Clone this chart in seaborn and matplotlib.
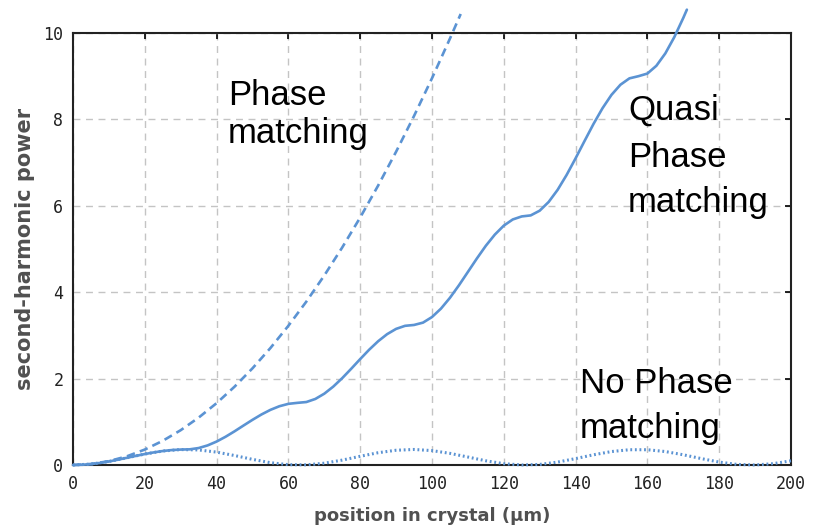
import matplotlib
matplotlib.use("Agg")
import matplotlib.pyplot as plt
import seaborn as sns
import pandas as pd

# position in crystal (µm)
z_full = [0, 5, 10, 15, 20, 25, 30, 35, 40, 45, 50, 55, 60, 65, 70, 75, 80, 85, 90, 95,
          100, 105, 110, 115, 120, 125, 130, 135, 140, 145, 150, 155, 160, 165, 170,
          175, 180, 185, 190, 195, 200]

# No phase matching (oscillating)
no_pm = [0.0, 0.022, 0.082, 0.167, 0.254, 0.324, 0.358, 0.349, 0.299, 0.220, 0.131,
         0.054, 0.008, 0.004, 0.042, 0.114, 0.202, 0.285, 0.342, 0.360, 0.334, 0.270,
         0.185, 0.098, 0.031, 0.001, 0.014, 0.068, 0.149, 0.237, 0.312, 0.354, 0.354,
         0.312, 0.237, 0.149, 0.068, 0.014, 0.001, 0.031, 0.098]

# Quasi phase matching (stepwise growth)
z_qpm = [0, 2.5, 5, 7.5, 10, 12.5, 15, 17.5, 20, 22.5, 25, 27.5, 30, 32.5, 35, 37.5,
         40, 42.5, 45, 47.5, 50, 52.5, 55, 57.5, 60, 62.5, 65, 67.5, 70, 72.5, 75, 77.5,
         80, 82.5, 85, 87.5, 90, 92.5, 95, 97.5, 100, 102.5, 105, 107.5, 110, 112.5,
         115, 117.5, 120, 122.5, 125, 127.5, 130, 132.5, 135, 137.5, 140, 142.5, 145,
         147.5, 150, 152.5, 155, 157.5, 160, 162.5, 165, 167.5, 170, 171]
qpm = [0.0, 0.006, 0.022, 0.048, 0.082, 0.123, 0.167, 0.211, 0.254, 0.292, 0.324,
       0.346, 0.358, 0.363, 0.393, 0.454, 0.543, 0.654, 0.780, 0.914, 1.046, 1.170,
       1.277, 1.361, 1.416, 1.439, 1.458, 1.529, 1.651, 1.815, 2.011, 2.228, 2.452,
       2.669, 2.865, 3.029, 3.151, 3.222, 3.242, 3.296, 3.425, 3.620, 3.870, 4.159,
       4.469, 4.780, 5.075, 5.333, 5.541, 5.684, 5.754, 5.778, 5.887, 6.089, 6.370,
       6.714, 7.099, 7.501, 7.896, 8.259, 8.568, 8.803, 8.950, 9.000, 9.061, 9.241,
       9.528, 9.905, 10.349, 10.54]

# Perfect phase matching (quadratic growth)
z_pm = [0, 5, 10, 15, 20, 25, 30, 35, 40, 45, 50, 55, 60, 65, 70, 75, 80, 85, 90, 95,
        100, 105, 108]
pm = [0.0, 0.022, 0.090, 0.201, 0.358, 0.560, 0.806, 1.097, 1.432, 1.813, 2.238,
      2.708, 3.223, 3.782, 4.387, 5.036, 5.729, 6.468, 7.251, 8.079, 8.952, 9.870,
      10.44]

x_ticks = [0, 20, 40, 60, 80, 100, 120, 140, 160, 180, 200]
y_ticks = [0, 2, 4, 6, 8, 10]
x_label = "position in crystal (µm)"
y_label = "second-harmonic power"

sns.set_style("white")
plt.rcParams["font.family"] = ["DejaVu Sans"]

color = "#5b93d3"

fig = plt.figure(figsize=(8.19, 5.27), dpi=100)
ax = fig.add_axes([0.0891, 0.1176, 0.8767, 0.8198])

df_no = pd.DataFrame({"z": z_full, "p": no_pm})
df_q = pd.DataFrame({"z": z_qpm, "p": qpm})
df_pm = pd.DataFrame({"z": z_pm, "p": pm})

sns.lineplot(data=df_no, x="z", y="p", ax=ax, color=color, lw=2.2,
             linestyle=(0, (0.6, 0.9)), clip_on=False, zorder=3)
sns.lineplot(data=df_q, x="z", y="p", ax=ax, color=color, lw=1.9,
             clip_on=False, zorder=3)
sns.lineplot(data=df_pm, x="z", y="p", ax=ax, color=color, lw=1.9,
             linestyle=(0, (3.2, 2.0)), clip_on=False, zorder=3)

ax.set_xlim(0, 200)
ax.set_ylim(0, 10)
ax.set_xticks(x_ticks)
ax.set_yticks(y_ticks)
ax.set_xticklabels([str(v) for v in x_ticks], family="DejaVu Sans Mono", fontsize=12, color="#222222")
ax.set_yticklabels([str(v) for v in y_ticks], family="DejaVu Sans Mono", fontsize=12, color="#222222")

ax.grid(True, color="#c4c4c4", linestyle=(0, (5, 4)), linewidth=1.0)
ax.set_axisbelow(True)
ax.tick_params(direction="in", top=True, right=True, length=4, width=1.2,
               color="black", pad=7)
for s in ax.spines.values():
    s.set_color("#222222")
    s.set_linewidth(1.5)

ax.set_xlabel(x_label, fontsize=13, fontweight="bold", color="#505050", labelpad=10)
ax.set_ylabel(y_label, fontsize=15, fontweight="bold", color="#505050", labelpad=6)

tkw = dict(fontsize=25, family="Liberation Sans", color="black", ha="left", va="baseline")
ax.text(43.2, 8.333, "Phase", **tkw)
ax.text(43.2, 7.454, "matching", **tkw)
ax.text(154.6, 7.986, "Quasi", **tkw)
ax.text(154.6, 6.898, "Phase", **tkw)
ax.text(154.6, 5.856, "matching", **tkw)
ax.text(141.2, 1.667, "No Phase", **tkw)
ax.text(141.2, 0.625, "matching", **tkw)

fig.savefig("out.png", dpi=100)
